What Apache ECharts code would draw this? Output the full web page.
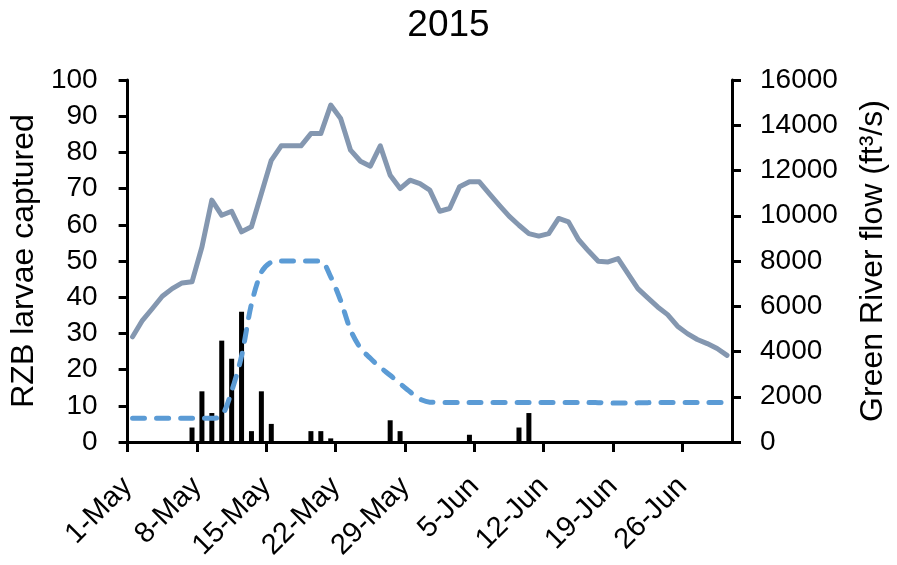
<!DOCTYPE html>
<html>
<head>
<meta charset="utf-8">
<script src="https://cdn.jsdelivr.net/npm/echarts@6/dist/echarts.min.js"></script>
<style>
html,body{margin:0;padding:0;background:#fff;}
#chart{width:897px;height:565px;}
</style>
</head>
<body>
<div id="chart"></div>
<script>
// Day index 0 = 1-May, 60 = 30-Jun
const tickDays = [0, 7, 14, 21, 28, 35, 42, 49, 56];
const tickLabels = ['1-May', '8-May', '15-May', '22-May', '29-May', '5-Jun', '12-Jun', '19-Jun', '26-Jun'];

// RZB larvae captured (bars): day index and count
const larvaeDays = [6, 7, 8, 9, 10, 11, 12, 13, 14, 18, 19, 20, 26, 27, 34, 39, 40];
const larvaeCounts = [4, 14, 8, 28, 23, 36, 3, 14, 5, 3, 3, 1, 6, 3, 2, 4, 8];

// Green River flow (ft3/s), daily, solid line
const flowSolid = [4650, 5380, 5900, 6440, 6780, 7030, 7080, 8620, 10690, 10020,
  10200, 9290, 9510, 10980, 12450, 13090, 13090, 13090, 13630, 13630,
  14890, 14300, 12900, 12410, 12190, 13090, 11790, 11200, 11570, 11420,
  11130, 10200, 10320, 11280, 11500, 11500, 10980, 10470, 9980, 9580,
  9210, 9100, 9210, 9880, 9730, 8950, 8450, 7990, 7960, 8110,
  7440, 6780, 6370, 5970, 5630, 5120, 4790, 4530, 4350, 4130, 3830];

// Second flow series, daily, dashed line
const flowDashed = [1050, 1050, 1050, 1050, 1050, 1050, 1050, 1050, 1050, 1150,
  2250, 3800, 6100, 7500, 7950, 8000, 8000, 8000, 8000, 8000,
  7300, 6250, 4950, 4150, 3700, 3300, 2950, 2580, 2220, 1900,
  1760, 1750, 1750, 1750, 1750, 1750, 1750, 1750, 1750, 1750,
  1750, 1750, 1750, 1750, 1750, 1750, 1750, 1740, 1730, 1720,
  1720, 1730, 1740, 1750, 1750, 1750, 1750, 1750, 1750, 1750, 1750];

const FONT = '"Liberation Sans", Arial, sans-serif';

const barData = larvaeDays.map((d, k) => [d + 0.5, larvaeCounts[k]]);
const solidData = flowSolid.map((v, i) => [i + 0.5, v]);
const dashedData = flowDashed.map((v, i) => [i + 0.5, v]);

const chart = echarts.init(document.getElementById('chart'), null, {renderer: 'canvas'});
chart.setOption({
  backgroundColor: '#ffffff',
  animation: false,
  title: {
    text: '2015', left: 'center', top: 2,
    textStyle: {fontFamily: FONT, fontSize: 37, fontWeight: 'normal', color: '#000'}
  },
  grid: {left: 127, right: 160, top: 80, bottom: 123, containLabel: false},
  xAxis: {
    type: 'value', min: 0, max: 61, interval: 7,
    splitLine: {show: false},
    axisLine: {show: true, onZero: false, lineStyle: {color: '#000', width: 3}},
    axisTick: {show: true, inside: false, length: 10, lineStyle: {color: '#000', width: 3}},
    axisLabel: {
      rotate: 45, margin: 40, fontFamily: FONT, fontSize: 29, color: '#000',
      showMaxLabel: false,
      formatter: function (v) {
        const k = tickDays.indexOf(Math.round(v));
        return (k >= 0 && Math.abs(v - tickDays[k]) < 1e-6) ? tickLabels[k] : '';
      }
    }
  },
  yAxis: [
    {
      type: 'value', min: 0, max: 100, interval: 10, position: 'left',
      name: 'RZB larvae captured', nameLocation: 'middle', nameGap: 81, nameRotate: 90,
      nameTextStyle: {fontFamily: FONT, fontSize: 32, color: '#000'},
      splitLine: {show: false},
      axisLine: {show: true, lineStyle: {color: '#000', width: 3}},
      axisTick: {show: true, inside: false, length: 9, lineStyle: {color: '#000', width: 3}},
      axisLabel: {margin: 30, fontFamily: FONT, fontSize: 28, color: '#000'}
    },
    {
      type: 'value', min: 0, max: 16000, interval: 2000, position: 'right',
      name: 'Green River flow (ft³/s)', nameLocation: 'middle', nameGap: 125, nameRotate: 90,
      nameTextStyle: {fontFamily: FONT, fontSize: 32, color: '#000'},
      splitLine: {show: false},
      axisLine: {show: true, lineStyle: {color: '#000', width: 3}},
      axisTick: {show: true, inside: false, length: 9, lineStyle: {color: '#000', width: 3}},
      axisLabel: {margin: 28, fontFamily: FONT, fontSize: 28, color: '#000',
        formatter: function (v) { return String(v); }}
    }
  ],
  series: [
    {
      type: 'bar', name: 'RZB larvae', yAxisIndex: 0, data: barData,
      barWidth: 5, itemStyle: {color: '#000'}, z: 3
    },
    {
      type: 'line', name: 'Flow', yAxisIndex: 1, data: solidData,
      showSymbol: false, smooth: false,
      lineStyle: {color: '#8497B0', width: 5, cap: 'round', join: 'round'}, z: 4
    },
    {
      type: 'line', name: 'Flow 2', yAxisIndex: 1, data: dashedData,
      showSymbol: false, smooth: 0.3,
      lineStyle: {color: '#5B9BD5', width: 5, type: [12, 12], cap: 'round', join: 'round'}, z: 5
    }
  ]
});
</script>
</body>
</html>
